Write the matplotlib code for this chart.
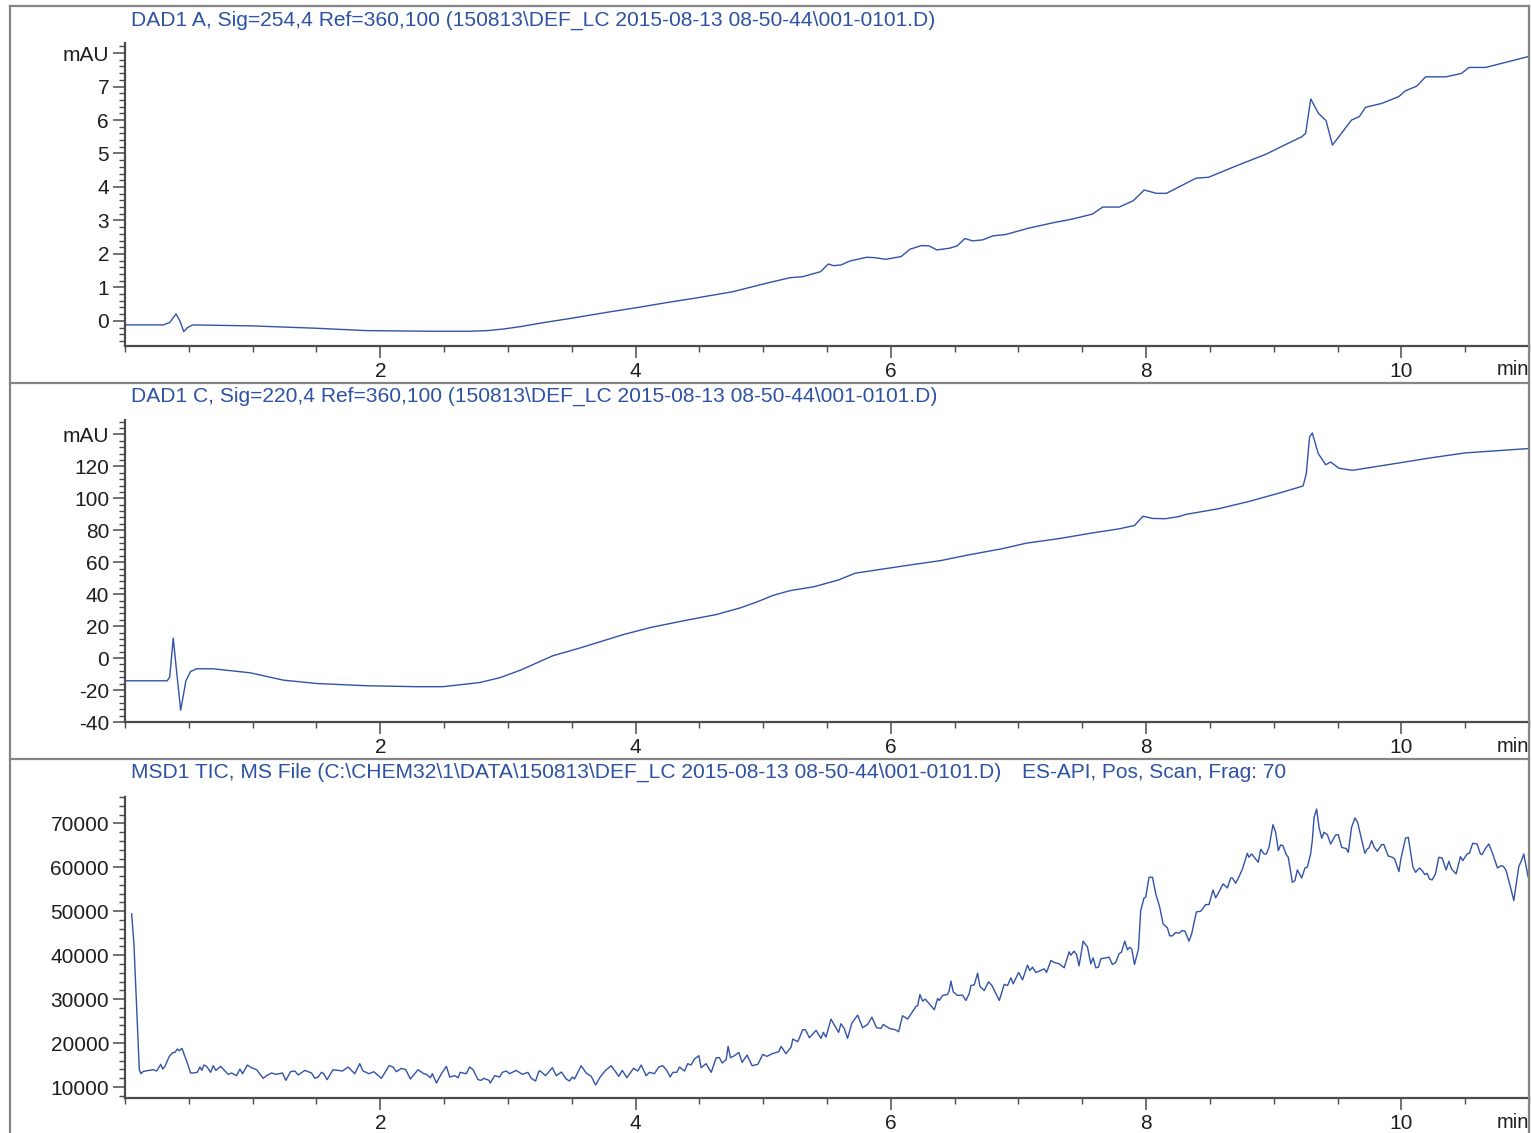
import matplotlib
matplotlib.use("Agg")
import matplotlib.pyplot as plt
from matplotlib.lines import Line2D
from matplotlib.ticker import MultipleLocator, FixedLocator, FixedFormatter

plt.rcParams['font.family'] = ['Liberation Sans', 'DejaVu Sans']

# ---------------- data ----------------
titles = [
    r"DAD1 A, Sig=254,4 Ref=360,100 (150813\DEF_LC 2015-08-13 08-50-44\001-0101.D)",
    r"DAD1 C, Sig=220,4 Ref=360,100 (150813\DEF_LC 2015-08-13 08-50-44\001-0101.D)",
    r"MSD1 TIC, MS File (C:\CHEM32\1\DATA\150813\DEF_LC 2015-08-13 08-50-44\001-0101.D)",
]
title3_extra = "ES-API, Pos, Scan, Frag: 70"

t_a = [0.00, 0.30, 0.35, 0.40, 0.43, 0.46, 0.49, 0.53, 1.00, 1.50, 1.89, 2.41, 2.70, 2.84,
       2.97, 3.10, 3.25, 3.50, 3.75, 4.00, 4.25, 4.50, 4.76, 5.02, 5.21, 5.31, 5.45, 5.51, 5.55,
       5.61, 5.68, 5.81, 5.87, 5.96, 6.08, 6.15, 6.24, 6.30, 6.36, 6.46, 6.52, 6.58, 6.64,
       6.72, 6.80, 6.90, 7.08, 7.27, 7.42, 7.58, 7.66, 7.79, 7.90, 7.985, 8.08, 8.16, 8.39,
       8.49, 8.70, 8.94, 9.10, 9.22, 9.25, 9.29, 9.35, 9.41, 9.46, 9.53, 9.61, 9.67, 9.72,
       9.85, 9.98, 10.03, 10.12, 10.19, 10.35, 10.47, 10.53, 10.66, 11.00]
v_a = [-0.12, -0.12, -0.05, 0.21, 0.00, -0.32, -0.20, -0.12, -0.15, -0.22, -0.29, -0.31, -0.31, -0.29,
       -0.24, -0.17, -0.07, 0.08, 0.24, 0.39, 0.55, 0.70, 0.87, 1.12, 1.29, 1.32, 1.47, 1.70, 1.65,
       1.67, 1.79, 1.90, 1.89, 1.84, 1.92, 2.14, 2.25, 2.24, 2.12, 2.17, 2.24, 2.46, 2.39,
       2.42, 2.54, 2.58, 2.77, 2.93, 3.04, 3.19, 3.40, 3.40, 3.59, 3.91, 3.81, 3.81, 4.26,
       4.29, 4.62, 4.98, 5.28, 5.50, 5.60, 6.63, 6.20, 5.98, 5.25, 5.60, 6.00, 6.10, 6.38,
       6.50, 6.70, 6.87, 7.01, 7.29, 7.29, 7.39, 7.57, 7.57, 7.90]

t_c = [0.00, 0.33, 0.35, 0.378, 0.40, 0.436, 0.46, 0.477, 0.514, 0.561, 0.69, 0.98, 1.24, 1.50,
       1.89, 2.28, 2.49, 2.67, 2.78, 2.94, 3.10, 3.35, 3.58, 3.90, 4.12, 4.38, 4.63, 4.82,
       4.95, 5.08, 5.21, 5.40, 5.59, 5.72, 5.91, 6.17, 6.39, 6.61, 6.87, 7.06, 7.32, 7.57,
       7.79, 7.91, 7.976, 8.05, 8.15, 8.26, 8.31, 8.57, 8.81, 9.07, 9.23, 9.255, 9.281, 9.302,
       9.349, 9.407, 9.446, 9.511, 9.616, 9.98, 10.22, 10.50, 10.99]
v_c = [-14.2, -14.2, -12.0, 12.5, -5.0, -32.6, -22.0, -14.2, -8.4, -6.7, -6.7, -9.2, -13.8, -15.9,
       -17.3, -17.9, -17.9, -16.3, -15.3, -12.2, -7.5, 1.4, 6.7, 14.6, 19.2, 23.4, 27.2, 31.4,
       35.1, 39.3, 42.2, 44.7, 48.9, 53.1, 55.4, 58.5, 61.0, 64.6, 68.4, 71.9, 74.8, 78.2,
       80.9, 83.0, 88.8, 87.4, 87.2, 88.6, 89.9, 93.5, 98.1, 103.9, 107.7, 115.4, 138.4, 140.9,
       128.0, 121.0, 122.7, 118.8, 117.5, 122.1, 125.2, 128.4, 131.1]

t_tic = [0.052, 0.070, 0.112, 0.125, 0.144, 0.220, 0.248, 0.280, 0.295, 0.313, 0.347, 0.373,
         0.391, 0.410, 0.425, 0.446, 0.483, 0.514, 0.535, 0.566, 0.587, 0.603, 0.618, 0.639,
         0.671, 0.691, 0.712, 0.749, 0.809, 0.835, 0.874, 0.900, 0.921, 0.958, 0.991, 1.031,
         1.083, 1.109, 1.148, 1.182, 1.234, 1.260, 1.297, 1.331, 1.357, 1.409, 1.461, 1.487,
         1.513, 1.539, 1.557, 1.583, 1.630, 1.703, 1.748, 1.800, 1.839, 1.865, 1.912, 1.949,
         2.009, 2.069, 2.100, 2.126, 2.166, 2.200, 2.236, 2.296, 2.340, 2.361, 2.393, 2.408,
         2.440, 2.479, 2.518, 2.544, 2.583, 2.610, 2.627, 2.674, 2.700, 2.727, 2.766, 2.792,
         2.810, 2.852, 2.862, 2.896, 2.935, 2.956, 2.987, 3.013, 3.065, 3.113, 3.157, 3.183,
         3.217, 3.243,
         3.254, 3.295, 3.348, 3.379, 3.419, 3.457, 3.483, 3.504, 3.522, 3.574, 3.613, 3.653,
         3.687, 3.723, 3.765, 3.809, 3.835, 3.869, 3.896, 3.932, 3.984, 4.018, 4.044, 4.083,
         4.109, 4.148, 4.182, 4.213, 4.245, 4.271, 4.292, 4.323, 4.344, 4.383, 4.409, 4.435,
         4.461, 4.496, 4.514, 4.553, 4.593, 4.632, 4.658, 4.678, 4.710, 4.725, 4.744, 4.775,
         4.809, 4.835, 4.874, 4.913, 4.958, 4.997, 5.028, 5.070, 5.122, 5.140, 5.179, 5.219,
         5.232, 5.271, 5.310, 5.331, 5.362, 5.414, 5.453, 5.471, 5.492, 5.531, 5.570, 5.591,
         5.609, 5.635, 5.661, 5.695, 5.740, 5.779, 5.818, 5.852, 5.888, 5.923, 5.941, 5.988,
         6.035, 6.061, 6.092, 6.132, 6.166, 6.197, 6.210, 6.228, 6.249, 6.270, 6.301, 6.341,
         6.367, 6.380, 6.406, 6.445, 6.458,
         6.471, 6.489, 6.523, 6.562, 6.588, 6.614, 6.628, 6.654, 6.680, 6.698, 6.732, 6.766,
         6.792, 6.824, 6.850, 6.888, 6.915, 6.941, 6.959, 7.001, 7.032, 7.071, 7.089, 7.110,
         7.136, 7.162, 7.202, 7.220, 7.254, 7.280, 7.319, 7.358, 7.397, 7.410, 7.436, 7.455,
         7.475, 7.507, 7.541, 7.567, 7.585, 7.606, 7.627, 7.645, 7.684, 7.710, 7.736, 7.762,
         7.788, 7.807, 7.833, 7.854, 7.872, 7.888, 7.909, 7.924, 7.940, 7.958, 7.984, 7.997,
         8.023, 8.050, 8.076, 8.107, 8.133, 8.167, 8.185, 8.206, 8.232, 8.258, 8.284, 8.305,
         8.336, 8.357, 8.394, 8.428, 8.467, 8.493, 8.524, 8.545, 8.571, 8.603, 8.637, 8.663,
         8.676, 8.702, 8.728,
         8.754, 8.793, 8.806, 8.827, 8.879, 8.898, 8.924, 8.942, 8.963, 8.994, 9.015, 9.036,
         9.054, 9.072, 9.098, 9.114, 9.146, 9.166, 9.185, 9.219, 9.245, 9.263, 9.289, 9.302,
         9.316, 9.336, 9.355, 9.376, 9.394, 9.420, 9.446, 9.485, 9.506, 9.532, 9.550, 9.568,
         9.584, 9.610, 9.636, 9.657, 9.688, 9.714, 9.733, 9.746, 9.767, 9.788, 9.811, 9.845,
         9.863, 9.897, 9.929, 9.947, 9.981, 9.996, 10.033, 10.054, 10.072, 10.090, 10.111,
         10.142, 10.163, 10.184, 10.202, 10.220, 10.241, 10.267, 10.293, 10.319, 10.351,
         10.372, 10.393, 10.429, 10.463, 10.481, 10.515, 10.533, 10.559, 10.593, 10.619,
         10.632, 10.658, 10.685, 10.716, 10.753, 10.784, 10.801, 10.821, 10.855, 10.881,
         10.920, 10.946, 10.959, 10.993]
v_tic = [49400, 42580, 13940, 13030, 13560, 13940, 13640, 15160, 14090, 14700, 16970, 17810,
         17880, 18640, 18260, 18790, 15910, 13190, 13190, 13340, 14550, 13790, 15010, 14700,
         13340, 14850, 13790, 14700, 12880, 13190, 12580, 14090, 13030, 15010, 14400, 13940,
         11980, 12580, 13190, 12880, 13190, 11520, 13490, 13640, 12730, 13790, 13190, 11980,
         12280, 13340, 13030, 11670, 13940, 13640, 14550, 13030, 15310, 13640, 13030, 13490,
         11980, 14850, 14550, 13490, 14250, 13940, 11820, 13940, 13030, 12880, 12120, 13030,
         10910, 13030, 14700, 12280, 12580, 12120, 13340, 13030, 14550, 13940, 11670, 11520,
         11980, 11520, 10910, 12580, 12280, 13340, 13640, 13030, 13790, 12880, 13340, 11980,
         11370, 13640,
         13640, 12580, 14400, 12580, 13410, 11820, 11370, 12280, 11820, 14850, 13190, 12430,
         10460, 12280, 13790, 14850, 13790, 12430, 13790, 12120, 14250, 13640, 15010, 12580,
         13340, 13030, 14550, 14850, 13790, 12280, 13340, 13340, 14550, 13640, 15310, 15010,
         16370, 17130, 14400, 15310, 13340, 16670, 16670, 15460, 16220, 19250, 16670, 17130,
         17880, 15610, 17280, 14850, 15160, 17430, 16970, 17580, 18040, 19250, 17580, 19100,
         20910, 20310, 23040, 23040, 21220, 22880, 21070, 22430, 21370, 25460, 23490, 22430,
         24400, 23340, 21070, 24550, 26370, 23490, 24250, 25910, 23490, 23340, 24250, 23340,
         23040, 22580, 26220, 25460, 26980, 28340, 28490, 31060, 29550, 30000, 28940, 27580,
         30160, 29700, 30840, 31060, 31970,
         34100, 31670, 30840, 30910, 29700, 31220, 33110, 33260, 35920, 32890, 31970, 33940,
         33110, 31220, 29700, 33340, 33110, 34850, 33490, 36070, 34400, 37730, 36520, 37280,
         36070, 36370, 36900, 36070, 38790, 38340, 38040, 37130, 40760, 40000, 40910, 40160,
         37580, 43190, 41820, 38040, 39400, 37130, 37280, 39170, 39400, 39550, 37880, 38340,
         40310, 40690, 43190, 41220, 41820, 41370, 37880, 39550, 41370, 50160, 53040, 53190,
         57730, 57730, 53940, 50910, 47130, 46220, 44400, 44400, 45160, 45000, 45610, 45460,
         43190, 44850, 49850, 50000, 51520, 51520, 54850, 53040, 54400, 56220, 55310, 57580,
         57580, 56370, 57880,
         59550, 63190, 62280, 63040, 61140, 64100, 63040, 63040, 64550, 69700, 67960, 63790,
         65080, 64930, 62880, 62280, 56600, 56970, 59400, 57580, 59850, 60010, 63040, 66070,
         71370, 73260, 69100, 66600, 67960, 67430, 65310, 67350, 67430, 64550, 64400, 64250,
         63410, 69100, 71220, 70230, 66450, 63190, 64170, 64400, 66070, 64550, 63640, 65160,
         65160, 62580, 62280, 61900, 59020, 61900, 66670, 66820, 63410, 60160, 58870,
         59850, 59250, 58340, 58640, 57350, 57130, 58490, 62280, 62130, 59400,
         61370, 59630, 58490, 62430, 61520, 63040, 63190, 65460, 65310, 63040,
         62880, 64250, 65310, 63040, 59850, 60390, 60160, 59250, 55460, 52430,
         60160, 61900, 63040, 57880]

ylims = [(-0.75, 8.3), (-40, 149), (7500, 76000)]
y_major = [list(range(0, 9)), list(range(-40, 141, 20)), list(range(10000, 70001, 10000))]
y_labels = [[str(v) for v in range(0, 8)] + ["mAU"],
            [str(v) for v in range(-40, 121, 20)] + ["mAU"],
            [str(v) for v in range(10000, 70001, 10000)]]
y_minor = [0.2, 4, 2000]
x_major = [2, 4, 6, 8, 10]

# ---------------- layout ----------------
W, H = 1532, 1133
LINE_C = '#3152a8'
TITLE_C = '#2d51a3'
TXT_C = '#1e1e1e'
AX_C = '#4a4a4a'
FRAME_C = '#858585'

fig = plt.figure(figsize=(W / 100, H / 100), dpi=100)

def rect(left, top, right, bottom):
    return [left / W, 1 - bottom / H, (right - left) / W, (bottom - top) / H]

axes_px = [(125, 43, 1529, 346), (125, 420, 1529, 722), (125, 797, 1529, 1098)]
title_y = [20, 396, 772]
series = [(t_a, v_a), (t_c, v_c), (t_tic, v_tic)]

for i in range(3):
    ax = fig.add_axes(rect(*axes_px[i]))
    t, v = series[i]
    ax.plot(t, v, color=LINE_C, lw=1.0, clip_on=True)
    ax.set_xlim(0, 11)
    ax.set_ylim(*ylims[i])
    for s in ('top', 'right'):
        ax.spines[s].set_visible(False)
    for s in ('left', 'bottom'):
        ax.spines[s].set_color(AX_C)
        ax.spines[s].set_linewidth(1.6)
    ax.xaxis.set_major_locator(FixedLocator(x_major))
    ax.xaxis.set_minor_locator(MultipleLocator(0.5))
    ax.yaxis.set_major_locator(FixedLocator(y_major[i]))
    ax.yaxis.set_major_formatter(FixedFormatter(y_labels[i]))
    ax.yaxis.set_minor_locator(MultipleLocator(y_minor[i]))
    ax.tick_params(which='major', direction='out', length=8.5, width=1.1, color=AX_C,
                   labelsize=15, labelcolor=TXT_C, pad=3)
    ax.tick_params(which='minor', direction='out', length=4, width=1.0, color=AX_C)
    ax.patch.set_alpha(0)
    h = axes_px[i][3] - axes_px[i][1]
    ax.text(1.0, -24 / h, "min", transform=ax.transAxes, ha='right', va='center',
            fontsize=14.5, color=TXT_C)
    fig.text(131 / W, 1 - title_y[i] / H, titles[i], ha='left', va='center',
             fontsize=15.1, color=TITLE_C)

fig.text(1022 / W, 1 - title_y[2] / H, title3_extra, ha='left', va='center',
         fontsize=15, color=TITLE_C)

# outer frame and separators
def hline(y, x0=10, x1=1529):
    fig.add_artist(Line2D([x0 / W, x1 / W], [1 - y / H, 1 - y / H], color=FRAME_C, lw=1.6))

def vline(x, y0=6, y1=1133):
    fig.add_artist(Line2D([x / W, x / W], [1 - y0 / H, 1 - y1 / H], color=FRAME_C, lw=1.6))

hline(6)
hline(383)
hline(759)
vline(10)
vline(1529)

fig.savefig("out.png", dpi=100)
